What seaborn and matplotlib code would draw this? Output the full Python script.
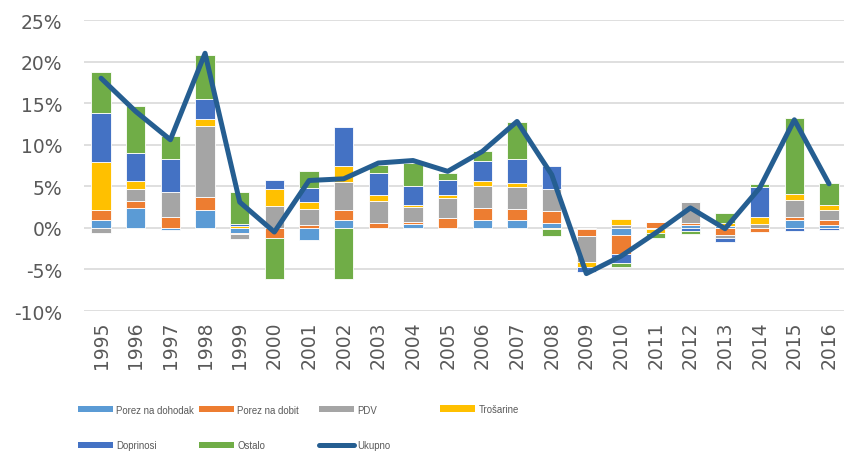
import numpy as np
import matplotlib
matplotlib.use('Agg')
import matplotlib.pyplot as plt
import seaborn as sns
from matplotlib.patches import Patch
from matplotlib.lines import Line2D

years = [str(y) for y in range(1995, 2017)]

# contributions, in percentage points
dohodak = [0.9, 2.4, -0.3, 2.1, -0.6, 0.0, -1.4, 0.9, 0.0, 0.5, 0.0, 0.9,
           0.9, 0.55, -0.15, -0.9, 0.0, 0.3, 0.2, 0.0, 0.9, 0.4]
dobit = [1.3, 0.8, 1.3, 1.6, -0.15, -1.2, 0.35, 1.2, 0.6, 0.15, 1.2, 1.5,
         1.4, 1.45, -0.8, -2.3, 0.7, 0.3, -0.9, -0.5, 0.4, 0.6]
pdv = [-0.6, 1.5, 3.0, 8.5, -0.6, 2.6, 1.9, 3.4, 2.6, 1.9, 2.4, 2.6,
       2.6, 2.7, -3.1, 0.3, -0.1, 2.5, -0.35, 0.45, 2.0, 1.1]
trosarine = [5.7, 0.9, 0.0, 0.9, 0.2, 2.1, 0.9, 2.0, 0.8, 0.15, 0.3, 0.6,
             0.5, -0.1, -0.65, 0.75, -0.5, 0.0, 0.35, 0.9, 0.8, 0.7]
doprinosi = [5.9, 3.4, 4.0, 2.4, 0.3, 1.0, 1.6, 4.6, 2.6, 2.3, 1.8, 2.5,
             2.9, 2.8, -0.55, -1.0, 0.0, -0.4, -0.5, 3.6, -0.4, -0.2]
ostalo = [4.9, 5.6, 2.7, 5.3, 3.8, -5.0, 2.1, -6.1, 1.0, 2.8, 0.9, 1.1,
          4.4, -0.9, 0.0, -0.5, -0.6, -0.3, 1.25, 0.3, 9.1, 2.6]
ukupno = [18.0, 14.0, 10.6, 21.0, 3.1, -0.5, 5.7, 5.9, 7.8, 8.1, 6.8, 9.2,
          12.8, 6.4, -5.5, -3.4, -0.6, 2.4, -0.1, 4.8, 13.0, 5.3]

series = [('Porez na dohodak', dohodak, '#5B9BD5'),
          ('Porez na dobit', dobit, '#ED7D31'),
          ('PDV', pdv, '#A5A5A5'),
          ('Trošarine', trosarine, '#FFC000'),
          ('Doprinosi', doprinosi, '#4472C4'),
          ('Ostalo', ostalo, '#70AD47')]
line_color = '#255E91'
text_color = '#595959'

sns.set_theme(style='white')
plt.rcParams['font.family'] = ['DejaVu Sans']

fig = plt.figure(figsize=(8.44, 4.52), dpi=100)
ax = fig.add_axes([0.0992, 0.3097, 0.9036, 0.6438])

x = np.arange(len(years))
pos_bottom = np.zeros(len(years))
neg_bottom = np.zeros(len(years))
for name, vals, col in series:
    v = np.array(vals, dtype=float)
    bottom = np.where(v >= 0, pos_bottom, neg_bottom)
    ax.bar(x, v, bottom=bottom, width=0.56, color=col,
           edgecolor='white', linewidth=0.6, zorder=2)
    pos_bottom += np.clip(v, 0, None)
    neg_bottom += np.clip(v, None, 0)

sns.lineplot(x=x, y=ukupno, ax=ax, color=line_color, linewidth=3.6,
             solid_joinstyle='round', solid_capstyle='round', zorder=3)

ax.set_xlim(-0.5, len(years) - 0.5)
ax.set_ylim(-10, 25)
ax.set_yticks(range(-10, 30, 5))
ax.set_yticklabels([f'{v}%' for v in range(-10, 30, 5)])
ax.set_xticks(x)
ax.set_xticklabels(years, rotation=90)
ax.tick_params(axis='y', length=0, pad=15.5, labelsize=13.5, labelcolor=text_color)
ax.tick_params(axis='x', length=0, pad=7, labelsize=13.5, labelcolor=text_color)
ax.grid(axis='y', color='#D9D9D9', linewidth=1.2, zorder=0)
ax.set_axisbelow(True)
for s in ax.spines.values():
    s.set_visible(False)

# legend laid out in equal-width columns, like the original
handles = {name: Patch(facecolor=col, edgecolor='none') for name, _, col in series}
handles['Ukupno'] = Line2D([0], [0], color=line_color, linewidth=3.6,
                           solid_capstyle='round')
columns = [(['Porez na dohodak', 'Doprinosi'], 78, 428.5),
           (['Porez na dobit', 'Ostalo'], 199, 428.5),
           (['PDV', 'Ukupno'], 319, 428.5),
           (['Trošarine'], 440, 410)]
for labels, px, py in columns:
    fig.legend([handles[l] for l in labels], labels, loc='center left',
               bbox_to_anchor=(px / 844, 1 - py / 452), frameon=False,
               borderpad=0, borderaxespad=0, handlelength=3.7,
               handleheight=0.65, handletextpad=0.3, labelspacing=2.7,
               prop={'family': ['Liberation Sans', 'DejaVu Sans'], 'size': 6.9},
               labelcolor=text_color)

fig.savefig('out.png', dpi=100)
